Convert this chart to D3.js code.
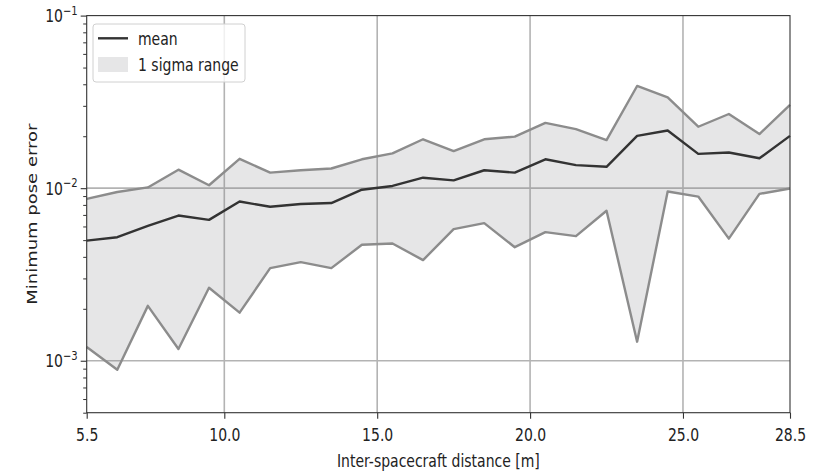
<!DOCTYPE html>
<html lang="en">
<head>
<meta charset="UTF-8">
<title>Minimum pose error</title>
<script src="https://d3js.org/d3.v7.min.js"></script>
<style>
    body { margin: 0; background: #fff; }
    svg text { font-family: "DejaVu Sans", sans-serif; fill: #222; }
</style>
</head>
<body>
<div id="chart"></div>
<script>
    // data
    const distances = [5.5, 6.5, 7.5, 8.5, 9.5, 10.5, 11.5, 12.5, 13.5, 14.5, 15.5, 16.5,
        17.5, 18.5, 19.5, 20.5, 21.5, 22.5, 23.5, 24.5, 25.5, 26.5, 27.5, 28.5];
    const meanError = [0.00497, 0.0052, 0.00605, 0.00694, 0.00655, 0.00837, 0.0078, 0.0081,
        0.0082, 0.0098, 0.0103, 0.0115, 0.0111, 0.0127, 0.0123, 0.0147, 0.0136, 0.0133,
        0.0201, 0.0216, 0.0158, 0.0161, 0.0149, 0.0201];
    const upperError = [0.00867, 0.0095, 0.0101, 0.0128, 0.0104, 0.0148, 0.0123, 0.0127,
        0.0130, 0.0147, 0.0159, 0.0192, 0.0164, 0.0192, 0.0199, 0.0239, 0.0220, 0.0190,
        0.0391, 0.0336, 0.0227, 0.0269, 0.0206, 0.0304];
    const lowerError = [0.00120, 0.000887, 0.00208, 0.00117, 0.00265, 0.00190, 0.00344, 0.00373,
        0.00344, 0.0047, 0.00478, 0.00383, 0.00579, 0.00627, 0.00455, 0.00556, 0.00527, 0.0074,
        0.00129, 0.00956, 0.00894, 0.0051, 0.00927, 0.00995];
    const xTicks = [5.5, 10, 15, 20, 25, 28.5];
    const xGrid = [10, 15, 20, 25];
    const yMajor = [1e-3, 1e-2, 1e-1];
    const yExponents = ["\u22123", "\u22122", "\u22121"];

    const width = 814, height = 471;
    const margin = { top: 15.6, right: 24, bottom: 58.3, left: 86.7 };
    const squeeze = 0.8; // figure text looks horizontally compressed
    const bandFill = "rgb(128,130,134)";

    const svg = d3.select("#chart").append("svg")
        .attr("width", width)
        .attr("height", height);

    const x = d3.scaleLinear()
        .domain([5.5, 28.5])
        .range([margin.left, width - margin.right]);

    const y = d3.scaleLog()
        .domain([5e-4, 1e-1])
        .range([height - margin.bottom, margin.top]);

    const data = distances.map((d, i) => ({
        x: d, mean: meanError[i], hi: upperError[i], lo: lowerError[i]
    }));

    // grid
    svg.append("g").selectAll("line")
        .data(xGrid)
        .join("line")
        .attr("x1", d => x(d)).attr("x2", d => x(d))
        .attr("y1", margin.top).attr("y2", height - margin.bottom)
        .attr("stroke", "#b3b3b3")
        .attr("stroke-width", 1.6);

    svg.append("g").selectAll("line")
        .data([1e-3, 1e-2])
        .join("line")
        .attr("x1", margin.left).attr("x2", width - margin.right)
        .attr("y1", d => y(d)).attr("y2", d => y(d))
        .attr("stroke", "#b3b3b3")
        .attr("stroke-width", 1.6);

    // 1 sigma band
    const area = d3.area()
        .x(d => x(d.x))
        .y0(d => y(d.lo))
        .y1(d => y(d.hi));

    svg.append("path")
        .datum(data)
        .attr("d", area)
        .attr("fill", bandFill)
        .attr("fill-opacity", 0.2);

    const boundLine = key => d3.line().x(d => x(d.x)).y(d => y(d[key]));

    ["hi", "lo"].forEach(k => {
        svg.append("path")
            .datum(data)
            .attr("d", boundLine(k))
            .attr("fill", "none")
            .attr("stroke", "#8c8c8c")
            .attr("stroke-width", 2.4)
            .attr("stroke-linejoin", "round");
    });

    svg.append("path")
        .datum(data)
        .attr("d", boundLine("mean"))
        .attr("fill", "none")
        .attr("stroke", "#333")
        .attr("stroke-width", 2.4)
        .attr("stroke-linejoin", "round");

    // frame
    svg.append("rect")
        .attr("x", margin.left).attr("y", margin.top)
        .attr("width", x.range()[1] - margin.left)
        .attr("height", y.range()[0] - margin.top)
        .attr("fill", "none")
        .attr("stroke", "#333")
        .attr("stroke-width", 1.1);

    // x axis
    const xAxis = svg.append("g")
        .attr("transform", `translate(0,${height - margin.bottom})`)
        .call(d3.axisBottom(x).tickValues(xTicks).tickFormat(d3.format(".1f")).tickSize(6).tickSizeOuter(0));
    xAxis.select(".domain").remove();
    xAxis.selectAll(".tick line").attr("stroke", "#333").attr("stroke-width", 1.1);
    xAxis.selectAll(".tick text")
        .attr("y", 28).attr("dy", 0)
        .attr("transform", `scale(${squeeze},1)`)
        .style("font-size", "17.5px")
        .style("font-family", "DejaVu Sans");

    // y axis: minor ticks
    const minor = y.ticks().filter(v => !yMajor.some(m => Math.abs(m - v) / m < 1e-6));
    const yMinorAxis = svg.append("g")
        .attr("transform", `translate(${margin.left},0)`)
        .call(d3.axisLeft(y).tickValues(minor).tickFormat("").tickSize(3.5).tickSizeOuter(0));
    yMinorAxis.select(".domain").remove();
    yMinorAxis.selectAll(".tick line").attr("stroke", "#333").attr("stroke-width", 1);

    const yMajorAxis = svg.append("g")
        .attr("transform", `translate(${margin.left},0)`)
        .call(d3.axisLeft(y).tickValues(yMajor).tickFormat("").tickSize(6).tickSizeOuter(0));
    yMajorAxis.select(".domain").remove();
    yMajorAxis.selectAll(".tick line").attr("stroke", "#333").attr("stroke-width", 1.1);

    const yLabels = svg.append("g").selectAll("text")
        .data(yMajor)
        .join("text")
        .attr("transform", d => `translate(${margin.left - 9},${y(d) + 6.5}) scale(${squeeze},1)`)
        .attr("text-anchor", "end")
        .style("font-size", "17.5px");
    yLabels.append("tspan").text("10");
    yLabels.append("tspan")
        .attr("dy", -7.5)
        .style("font-size", "12.5px")
        .text((d, i) => yExponents[i]);

    // axis titles
    svg.append("text")
        .attr("transform", `translate(${(margin.left + x.range()[1]) / 2},${height - 4.5}) scale(${squeeze},1)`)
        .attr("text-anchor", "middle")
        .style("font-size", "17.5px")
        .text("Inter-spacecraft distance [m]");

    svg.append("text")
        .attr("transform", `translate(37,${(margin.top + y.range()[0]) / 2}) rotate(-90) scale(1,${squeeze})`)
        .attr("text-anchor", "middle")
        .style("font-size", "18px")
        .text("Minimum pose error");

    // legend
    const legend = svg.append("g").attr("transform", "translate(93,24)");
    legend.append("rect")
        .attr("width", 152).attr("height", 58)
        .attr("rx", 3)
        .attr("fill", "#fff").attr("fill-opacity", 0.8)
        .attr("stroke", "#d0d0d0");
    legend.append("line")
        .attr("x1", 5).attr("x2", 35)
        .attr("y1", 14.3).attr("y2", 14.3)
        .attr("stroke", "#333").attr("stroke-width", 2.4);
    legend.append("rect")
        .attr("x", 5).attr("y", 33)
        .attr("width", 30).attr("height", 15)
        .attr("fill", bandFill).attr("fill-opacity", 0.2);
    legend.selectAll("text.lab")
        .data(["mean", "1 sigma range"])
        .join("text")
        .attr("class", "lab")
        .attr("transform", (d, i) => `translate(45,${i === 0 ? 20.5 : 47}) scale(${squeeze},1)`)
        .style("font-size", "17.5px")
        .text(d => d);
</script>
</body>
</html>
